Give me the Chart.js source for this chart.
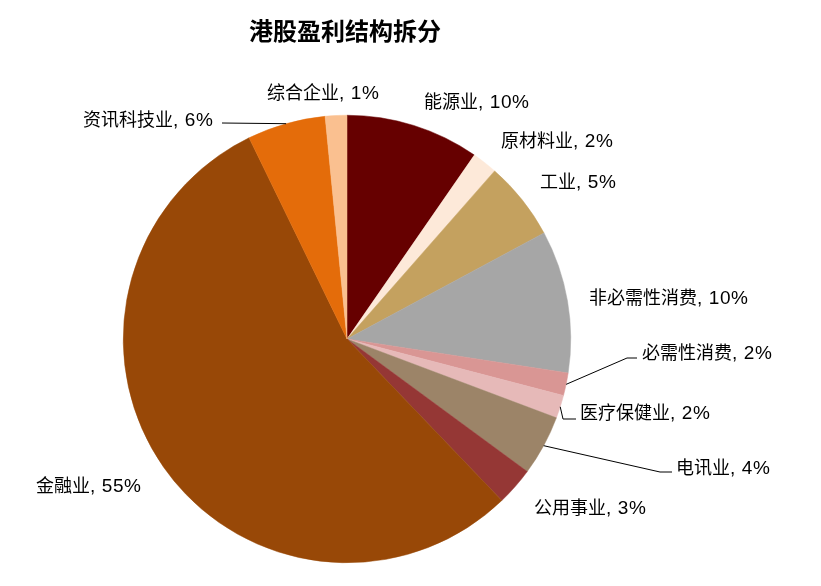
<!DOCTYPE html>
<html>
<head>
<meta charset="utf-8">
<script src="https://cdn.jsdelivr.net/npm/chart.js@4.4.0/dist/chart.umd.min.js"></script>
<style>
html,body{margin:0;padding:0;background:#fff;}
#wrap{position:relative;width:821px;height:586px;}
</style>
</head>
<body>
<div id="wrap"><canvas id="c" width="821" height="586"></canvas></div>
<script>
const title = '港股盈利结构拆分';
const categories = ['能源业','原材料业','工业','非必需性消费','必需性消费','医疗保健业','电讯业','公用事业','金融业','资讯科技业','综合企业'];
const values = [9.64, 1.83, 5.67, 10.29, 1.64, 1.66, 4.36, 2.75, 54.95, 5.65, 1.56];
const valueLabels = ['10%','2%','5%','10%','2%','2%','4%','3%','55%','6%','1%'];
const colors = ['#660000','#FDE9D9','#C4A15F','#A6A6A6','#D99694','#E6B9B8','#9C8468','#953735','#984807','#E46C0A','#FAC090'];

// label layout (text anchor: left x, middle y) and leader-line bend points
const labelLayout = [
  {x:424, y:101},
  {x:501, y:140},
  {x:540, y:181},
  {x:589, y:297},
  {x:642, y:352, leader:[[627,358],[637,358]]},
  {x:580, y:412, leader:[[563,419],[576,419]]},
  {x:676, y:467, leader:[[660,472],[672,472]]},
  {x:534, y:507},
  {x:36,  y:485},
  {x:83,  y:119, leader:[[222,123]]},
  {x:267, y:92}
];

const CJK = '"Noto Sans CJK SC", sans-serif';
const LAT = '"Liberation Sans", Arial, sans-serif';

const labelPlugin = {
  id: 'labels',
  afterDraw(chart) {
    const ctx = chart.ctx;
    ctx.save();
    // title
    ctx.fillStyle = '#000';
    ctx.font = 'bold 24px ' + CJK;
    ctx.textAlign = 'center';
    ctx.textBaseline = 'middle';
    ctx.fillText(title, 345, 31);

    const meta = chart.getDatasetMeta(0);
    ctx.textAlign = 'left';
    ctx.textBaseline = 'alphabetic';
    meta.data.forEach((arc, i) => {
      const L = labelLayout[i];
      if (L.leader) {
        const mid = (arc.startAngle + arc.endAngle) / 2;
        const ex = arc.x + Math.cos(mid) * arc.outerRadius;
        const ey = arc.y + Math.sin(mid) * arc.outerRadius;
        ctx.beginPath();
        ctx.strokeStyle = '#000';
        ctx.lineWidth = 1;
        ctx.moveTo(ex, ey);
        L.leader.forEach(p => ctx.lineTo(p[0], p[1]));
        ctx.stroke();
      }
      ctx.fillStyle = '#000';
      const base = L.y + 7;
      ctx.font = '18px ' + CJK;
      ctx.letterSpacing = '0px';
      ctx.fillText(categories[i], L.x, base);
      const w = ctx.measureText(categories[i]).width;
      ctx.font = '19px ' + LAT;
      ctx.letterSpacing = '0.6px';
      ctx.fillText(', ' + valueLabels[i], L.x + w, base);
    });
    ctx.restore();
  }
};

new Chart(document.getElementById('c'), {
  type: 'pie',
  data: {
    labels: categories,
    datasets: [{
      data: values,
      backgroundColor: colors,
      borderColor: colors,
      borderWidth: 0.5
    }]
  },
  options: {
    responsive: false,
    animation: false,
    layout: { padding: { left: 123, right: 250, top: 115, bottom: 23 } },
    plugins: { legend: { display: false }, tooltip: { enabled: false }, title: { display: false } }
  },
  plugins: [labelPlugin]
});
</script>
</body>
</html>
